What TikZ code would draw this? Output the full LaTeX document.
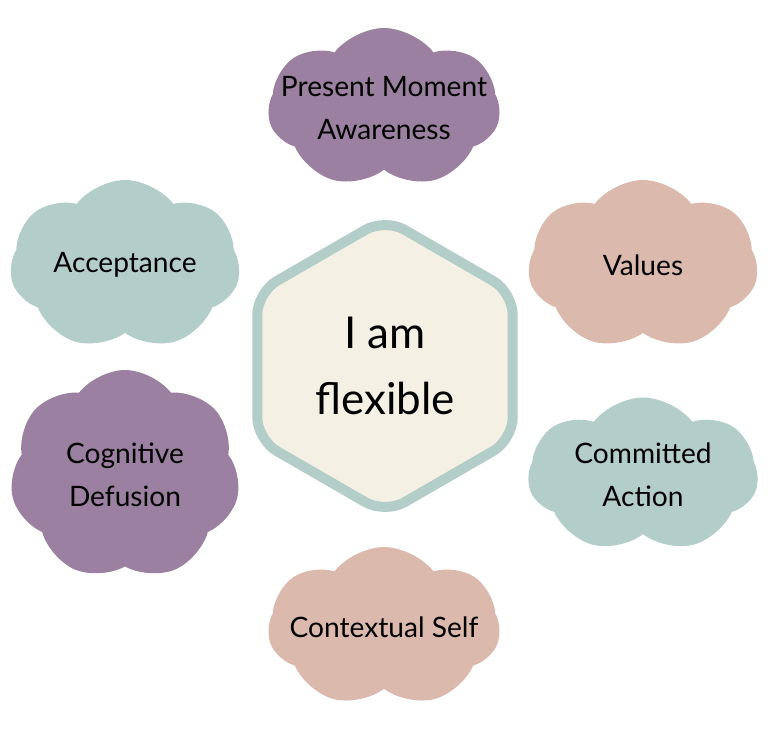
\documentclass[tikz,border=0pt]{standalone}
\usepackage{xcolor}
\usepackage{fontspec}
\setmainfont{Lato}
\usepackage{tikz}
\usetikzlibrary{shapes}
\usetikzlibrary{shapes.symbols}
\usetikzlibrary{shapes.geometric}
\definecolor{lilac}{HTML}{9C80A1}
\definecolor{sage}{HTML}{B3CDC8}
\definecolor{blush}{HTML}{DCB9AD}
\definecolor{cream}{HTML}{F4F0E4}
\tikzstyle{puff} = [cloud, cloud puffs=7, cloud puff arc=105, cloud ignores aspect, inner sep=0pt, align=center, font=\fontsize{16}{24.5}\selectfont]

\begin{document}
\begin{tikzpicture}
\useasboundingbox (0,0) rectangle (15.36,-14.68);
\node [regular polygon, regular polygon sides=6, shape border rotate=30, minimum size=5.9cm, inner sep=0pt, rounded corners=0.45cm, fill=cream, draw=sage, line width=0.2cm, align=center, font=\fontsize{25}{38}\selectfont] (H) at (7.70,-7.32) {I am\\flexible};
\node [puff, fill=lilac, minimum width=4.64cm, minimum height=3.2cm, inner xsep=-0.9cm] (P) at (7.68,-2.16) {Present Moment\\Awareness};
\node [puff, fill=sage, minimum width=4.6cm, minimum height=3.4cm] (A) at (2.50,-5.30) {Acceptance};
\node [puff, fill=lilac, minimum width=4.6cm, minimum height=4.2cm] (D) at (2.50,-9.50) {Cognitive\\Defusion};
\node [puff, fill=blush, minimum width=4.6cm, minimum height=3.4cm] (V) at (12.86,-5.30) {Values};
\node [puff, fill=sage, minimum width=4.6cm, minimum height=3.1cm] (C) at (12.86,-9.50) {Committed\\Action};
\node [puff, fill=blush, minimum width=4.64cm, minimum height=3.2cm, inner xsep=-0.9cm] (S) at (7.68,-12.54) {Contextual Self};
\end{tikzpicture}
\end{document}
